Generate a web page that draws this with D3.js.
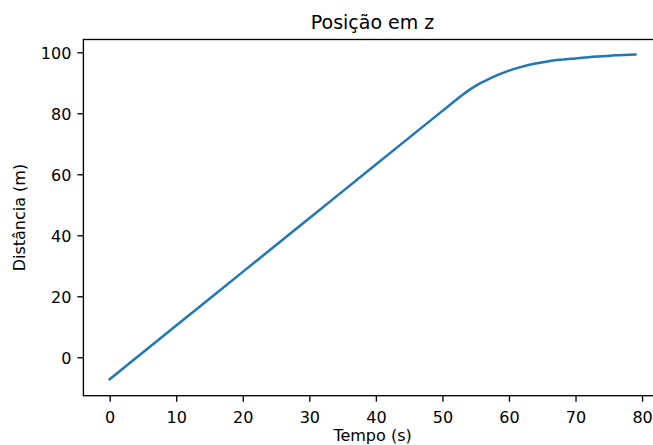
<!DOCTYPE html>
<html>
<head>
<meta charset="utf-8">
<script src="https://cdn.jsdelivr.net/npm/d3@7"></script>
<style>
  html, body { margin: 0; padding: 0; background: #fff; }
  svg { display: block; }
  text { font-family: "DejaVu Sans", sans-serif; fill: #000; }
</style>
</head>
<body>
<svg id="chart" width="653" height="445"></svg>
<script>
// Data
const tempo = [0, 10, 20, 30, 40, 50, 52, 53, 54, 55, 56, 57, 58, 59, 60, 62, 64, 66, 68, 70, 72, 74, 76, 79];
const distancia = [-7.2, 10.4, 28.0, 45.6, 63.2, 80.8, 84.3, 86.0, 87.6, 89.0, 90.2, 91.3, 92.3, 93.2, 94.0, 95.3, 96.3, 97.1, 97.6, 98.0, 98.4, 98.7, 99.0, 99.3];
const xTicks = [0, 10, 20, 30, 40, 50, 60, 70, 80];
const yTicks = [0, 20, 40, 60, 80, 100];
const title = "Posição em z";
const xLabel = "Tempo (s)";
const yLabel = "Distância (m)";

const svg = d3.select("#chart");
const mLeft = 83.4, mRight = 661.7, mTop = 39.5, mBottom = 395.7;

const x = d3.scaleLinear().domain([-3.95, 82.95]).range([mLeft, mRight]);
const y = d3.scaleLinear().domain([-12.6, 104.2]).range([mBottom, mTop]);

// Line
const data = tempo.map((t, i) => [t, distancia[i]]);
svg.append("path")
  .datum(data)
  .attr("fill", "none")
  .attr("stroke", "#1f77b4")
  .attr("stroke-width", 2.5)
  .attr("stroke-linejoin", "round")
  .attr("stroke-linecap", "square")
  .attr("d", d3.line().x(d => x(d[0])).y(d => y(d[1])).curve(d3.curveMonotoneX));

// Axes
const xAxis = d3.axisBottom(x).tickValues(xTicks).tickSize(6).tickPadding(6).tickFormat(d3.format("d"));
const yAxis = d3.axisLeft(y).tickValues(yTicks).tickSize(6).tickPadding(6).tickFormat(d3.format("d"));

const gx = svg.append("g").attr("transform", `translate(0,${mBottom})`).call(xAxis);
const gy = svg.append("g").attr("transform", `translate(${mLeft},0)`).call(yAxis);
[gx, gy].forEach(g => {
  g.select(".domain").remove();
  g.selectAll(".tick line").attr("stroke", "#000").attr("stroke-width", 1.33);
  g.selectAll(".tick text").attr("font-size", 16).attr("font-family", "DejaVu Sans, sans-serif").attr("fill", "#000");
});
gx.selectAll(".tick text").attr("dy", "0.95em");
gy.selectAll(".tick text").attr("dy", "0.36em");

// Spines
svg.append("rect")
  .attr("x", mLeft).attr("y", mTop)
  .attr("width", mRight - mLeft).attr("height", mBottom - mTop)
  .attr("fill", "none").attr("stroke", "#000").attr("stroke-width", 1.33);

// Title and labels
svg.append("text").attr("x", (mLeft + mRight) / 2).attr("y", 29)
  .attr("text-anchor", "middle").attr("font-size", 19).text(title);
svg.append("text").attr("x", (mLeft + mRight) / 2).attr("y", 440.5)
  .attr("text-anchor", "middle").attr("font-size", 16).text(xLabel);
svg.append("text")
  .attr("transform", `translate(25,${(mTop + mBottom) / 2}) rotate(-90)`)
  .attr("text-anchor", "middle").attr("font-size", 16).text(yLabel);
</script>
</body>
</html>
